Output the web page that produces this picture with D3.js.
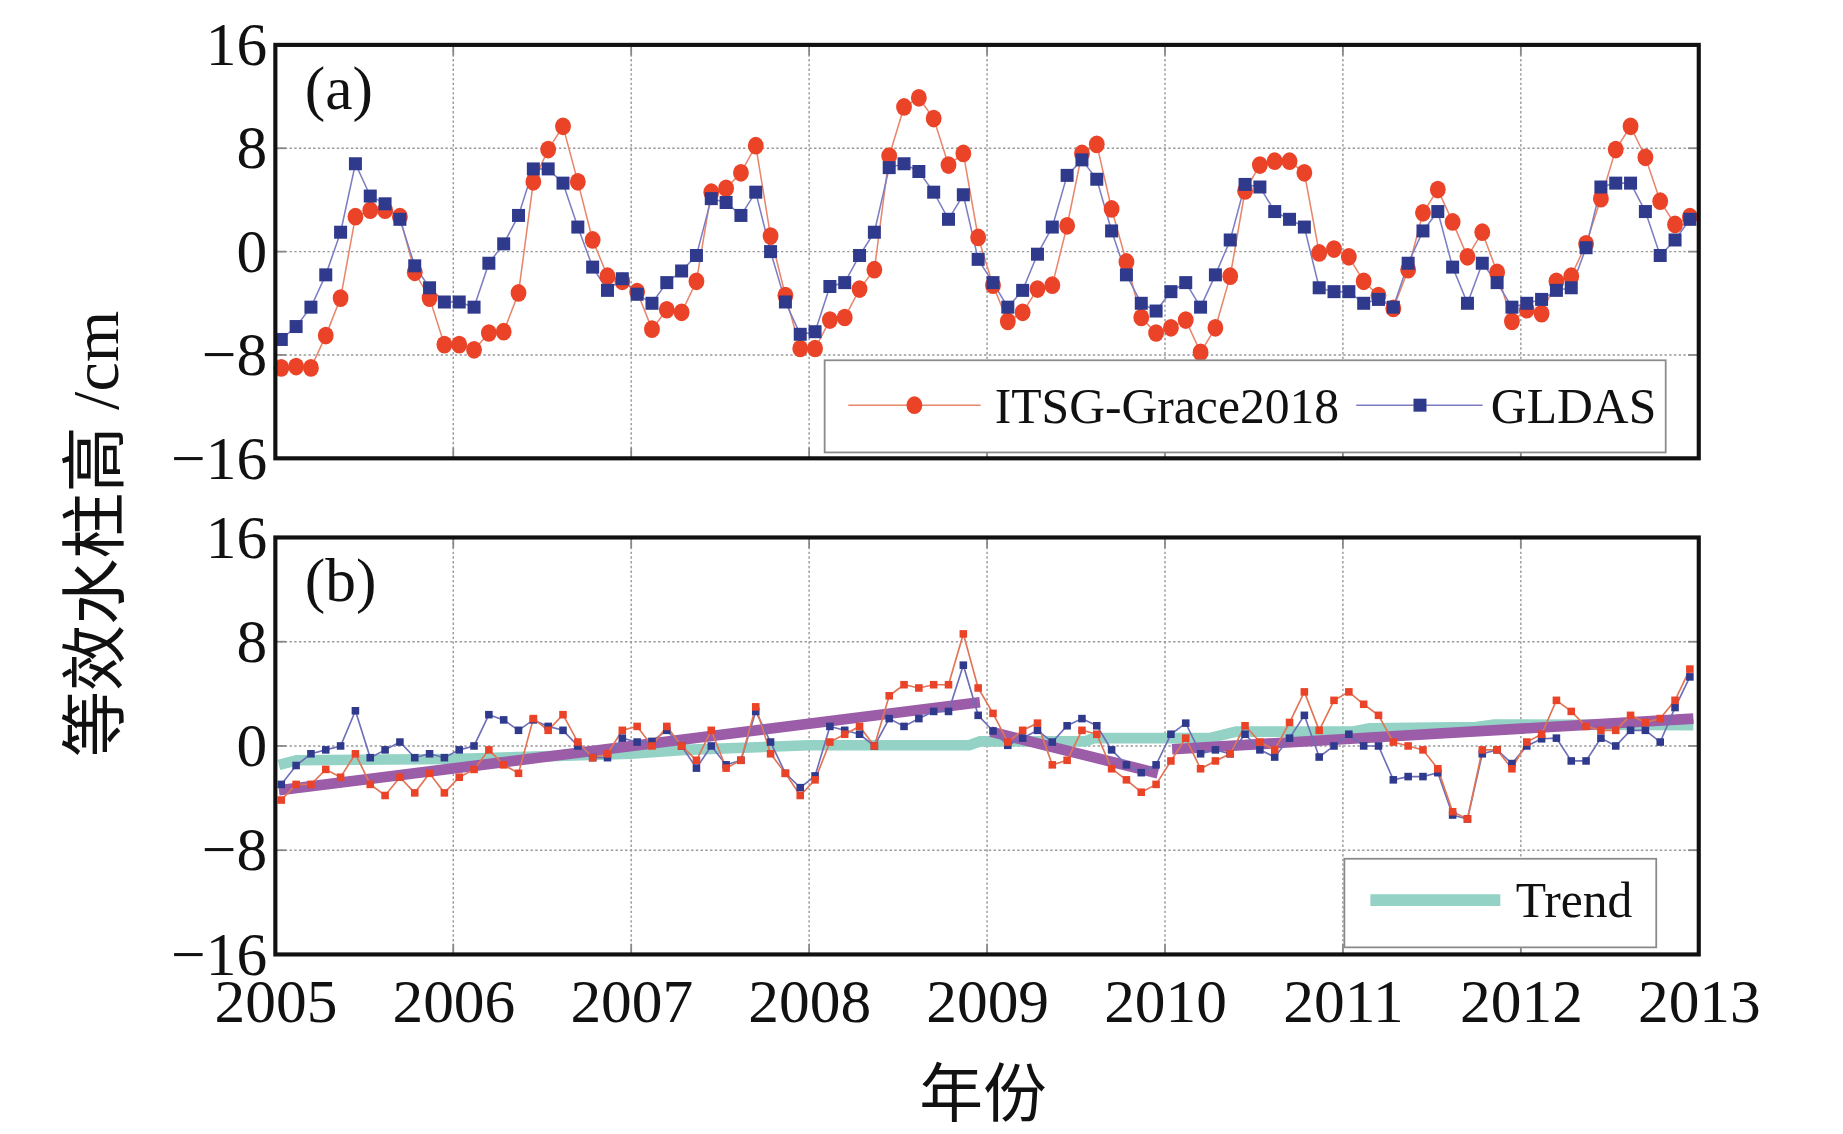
<!DOCTYPE html>
<html>
<head>
<meta charset="utf-8">
<script src="https://cdn.jsdelivr.net/npm/d3@7"></script>
<style>
  body { margin: 0; background: #fff; }
  text { font-family: "Liberation Serif", "Times New Roman", "Noto Sans CJK SC", serif; fill: #111; }
</style>
</head>
<body>
<div id="chart"></div>
<script>
// ---- data ----
var years = [2005, 2006, 2007, 2008, 2009, 2010, 2011, 2012];
var yearTicks = [2005, 2006, 2007, 2008, 2009, 2010, 2011, 2012, 2013];
var yTicks = [-16, -8, 0, 8, 16];

// (a) monthly equivalent water height, cm
var graceA = [
  -9.0, -8.9, -9.0, -6.5, -3.6, 2.7, 3.2, 3.2, 2.7, -1.6, -3.6, -7.2,
  -7.2, -7.6, -6.3, -6.2, -3.2, 5.4, 7.9, 9.7, 5.4, 0.9, -1.9, -2.3,
  -3.1, -6.0, -4.5, -4.7, -2.3, 4.6, 4.9, 6.1, 8.2, 1.2, -3.4, -7.5,
  -7.5, -5.3, -5.1, -2.9, -1.4, 7.4, 11.2, 11.9, 10.3, 6.7, 7.6, 1.1,
  -2.6, -5.4, -4.7, -2.9, -2.6, 2.0, 7.6, 8.3, 3.3, -0.8, -5.1, -6.3,
  -5.9, -5.3, -7.8, -5.9, -1.9, 4.7, 6.7, 7.0, 7.0, 6.1, -0.1, 0.2,
  -0.4, -2.3, -3.4, -4.4, -1.4, 3.0, 4.8, 2.3, -0.4, 1.5, -1.6, -5.4,
  -4.5, -4.8, -2.3, -1.9, 0.6, 4.1, 7.9, 9.7, 7.3, 3.9, 2.1, 2.7
];
var gldasA = [
  -6.8, -5.8, -4.3, -1.8, 1.5, 6.8, 4.3, 3.7, 2.5, -1.1, -2.8, -3.9,
  -3.9, -4.3, -0.9, 0.6, 2.8, 6.4, 6.4, 5.3, 1.9, -1.2, -3.0, -2.1,
  -3.3, -4.0, -2.4, -1.5, -0.3, 4.1, 3.8, 2.8, 4.6, 0.0, -3.9, -6.4,
  -6.2, -2.7, -2.4, -0.3, 1.5, 6.5, 6.8, 6.2, 4.6, 2.5, 4.4, -0.6,
  -2.4, -4.3, -3.0, -0.2, 1.9, 5.9, 7.1, 5.6, 1.6, -1.8, -4.0, -4.6,
  -3.1, -2.4, -4.3, -1.8, 0.9, 5.2, 5.0, 3.1, 2.5, 1.9, -2.8, -3.1,
  -3.1, -4.0, -3.7, -4.3, -0.9, 1.6, 3.1, -1.2, -4.0, -0.9, -2.4, -4.3,
  -4.0, -3.7, -3.0, -2.8, 0.3, 5.0, 5.3, 5.3, 3.1, -0.3, 0.9, 2.5
];

// (b) deseasonalised series
var graceB = [
  -4.15, -2.95, -2.95, -1.8, -2.4, -0.6, -2.95, -3.8, -2.4, -3.6, -2.1, -3.6,
  -2.4, -1.8, -0.3, -1.45, -2.1, 2.1, 1.2, 2.4, 0.3, -0.9, -0.6, 1.2,
  1.5, 0.0, 1.5, 0.0, -1.1, 1.2, -1.7, -1.1, 3.0, -0.6, -2.1, -3.8,
  -2.6, 0.3, 0.9, 1.5, 0.0, 3.85, 4.7, 4.45, 4.7, 4.7, 8.6, 4.45,
  2.5, 0.3, 1.2, 1.75, -1.45, -1.1, 1.2, 0.9, -1.75, -2.6, -3.55, -2.95,
  -1.15, 0.6, -1.75, -1.15, -0.6, 1.55, 0.3, -0.3, 1.8, 4.15, 1.2, 3.5,
  4.15, 3.2, 2.35, 0.3, 0.0, -0.3, -1.75, -5.05, -5.6, -0.3, -0.3, -1.75,
  0.3, 0.9, 3.5, 2.65, 1.5, 1.2, 1.2, 2.35, 1.8, 2.1, 3.5, 5.9
];
var gldasB = [
  -2.95, -1.5, -0.6, -0.3, 0.0, 2.7, -0.9, -0.3, 0.3, -0.9, -0.6, -0.9,
  -0.3, 0.0, 2.4, 2.0, 1.2, 2.0, 1.5, 1.2, 0.0, -0.9, -0.9, 0.6,
  0.3, 0.35, 1.2, 0.0, -1.7, 0.0, -1.45, -1.1, 2.65, 0.3, -2.1, -3.2,
  -2.3, 1.5, 1.2, 0.9, 0.0, 2.1, 1.5, 2.1, 2.65, 2.65, 6.2, 2.35,
  1.15, 0.05, 0.6, 1.2, 0.3, 1.55, 2.1, 1.55, -0.3, -1.45, -2.05, -1.45,
  0.9, 1.75, -0.6, -0.3, -0.6, 0.9, -0.3, -0.85, 0.6, 2.35, -0.85, 0.0,
  0.9, 0.0, 0.0, -2.6, -2.35, -2.35, -2.05, -5.3, -5.6, -0.6, -0.3, -1.35,
  0.0, 0.55, 0.6, -1.15, -1.15, 0.6, 0.0, 1.2, 1.2, 0.3, 2.95, 5.3
];

// trend lines
var trendTealYears = [2005.02, 2005.12, 2006.0, 2007.0, 2007.3, 2008.0, 2008.9, 2008.96, 2009.55, 2009.6, 2010.25, 2010.4, 2011.05, 2011.15, 2011.75, 2011.85, 2012.97];
var trendTealValues = [-1.45, -1.1, -1.0, -0.6, -0.3, 0.05, 0.05, 0.35, 0.35, 0.6, 0.6, 1.1, 1.1, 1.35, 1.45, 1.65, 1.6];
var trendPurpleYears = [[2005.02, 2008.96], [2009.02, 2009.96], [2010.04, 2012.97]];
var trendPurpleValues = [[-3.4, 3.35], [1.1, -2.1], [-0.25, 2.1]];

// month positions (mid-month) for each year
var monthPos = [];
years.forEach(function(y) { d3.range(12).forEach(function(m) { monthPos.push(y + (m + 0.4) / 12); }); });

// ---- layout ----
var W = 1560, H = 960;
var svg = d3.select("#chart").append("svg")
    .attr("width", 1843).attr("height", 1134)
    .attr("viewBox", "0 0 " + W + " " + H);

var left = 233, right = 1438;
var x = d3.scaleLinear().domain([2005, 2013]).range([left, right]);
var yA = d3.scaleLinear().domain([-16, 16]).range([388, 38]);
var yB = d3.scaleLinear().domain([-16, 16]).range([808, 455]);

var red = "#ea4328", redLine = "#e8866c", blue = "#2f3a8c", blueLine = "#7d7dc2";
var teal = "#93d2c5", purple = "#9b5ca8";

function fmt(d) { return d < 0 ? "\u2212" + (-d) : "" + d; }

function panelBase(y, label) {
  var g = svg.append("g");
  // grid
  g.selectAll(".gx").data(yearTicks.slice(1, -1)).enter().append("line")
    .attr("x1", x).attr("x2", x).attr("y1", y(16)).attr("y2", y(-16))
    .attr("stroke", "#999").attr("stroke-width", 1.2).attr("stroke-dasharray", "2,2");
  g.selectAll(".gy").data([-8, 0, 8]).enter().append("line")
    .attr("x1", left).attr("x2", right).attr("y1", y).attr("y2", y)
    .attr("stroke", "#999").attr("stroke-width", 1.2).attr("stroke-dasharray", "2,2");
  // inward ticks
  var tl = 9;
  yearTicks.forEach(function(t) {
    g.append("line").attr("x1", x(t)).attr("x2", x(t)).attr("y1", y(-16)).attr("y2", y(-16) - tl).attr("stroke", "#888").attr("stroke-width", 1.5);
    g.append("line").attr("x1", x(t)).attr("x2", x(t)).attr("y1", y(16)).attr("y2", y(16) + tl).attr("stroke", "#888").attr("stroke-width", 1.5);
  });
  yTicks.forEach(function(t) {
    g.append("line").attr("x1", left).attr("x2", left + tl).attr("y1", y(t)).attr("y2", y(t)).attr("stroke", "#888").attr("stroke-width", 1.5);
    g.append("line").attr("x1", right).attr("x2", right - tl).attr("y1", y(t)).attr("y2", y(t)).attr("stroke", "#888").attr("stroke-width", 1.5);
  });
  // y axis labels
  var ax = svg.append("g").attr("transform", "translate(" + left + ",0)")
    .call(d3.axisLeft(y).tickValues(yTicks).tickFormat(fmt).tickSize(0).tickPadding(7));
  ax.select(".domain").remove();
  ax.selectAll("text").attr("font-size", 52).attr("fill", "#111")
    .style("font-family", "'Liberation Serif', serif");
  svg.append("text").attr("x", 258).attr("y", y(16) + 54).attr("font-size", 52).text(label);
  return g;
}

function frame(y) {
  svg.append("rect").attr("x", left).attr("y", y(16)).attr("width", right - left).attr("height", y(-16) - y(16))
    .attr("fill", "none").attr("stroke", "#111").attr("stroke-width", 3.5);
}

// ---- panel (a) ----
var ga = panelBase(yA, "(a)");
var lineA = d3.line().x(function(d, i) { return x(monthPos[i]); }).y(function(d) { return yA(d); });
ga.append("path").datum(graceA).attr("d", lineA).attr("fill", "none").attr("stroke", redLine).attr("stroke-width", 1.3);
ga.append("path").datum(gldasA).attr("d", lineA).attr("fill", "none").attr("stroke", blueLine).attr("stroke-width", 1.3);
ga.selectAll(".ca").data(graceA).enter().append("ellipse")
  .attr("cx", function(d, i) { return x(monthPos[i]); }).attr("cy", yA)
  .attr("rx", 6.7).attr("ry", 7.5).attr("fill", red);
ga.selectAll(".sa").data(gldasA).enter().append("rect")
  .attr("x", function(d, i) { return x(monthPos[i]) - 5.5; }).attr("y", function(d) { return yA(d) - 5.5; })
  .attr("width", 11).attr("height", 11).attr("fill", blue);

// legend (a)
var la = svg.append("g");
la.append("rect").attr("x", 698).attr("y", 305).attr("width", 712).attr("height", 78)
  .attr("fill", "#fff").attr("stroke", "#8a8a8a").attr("stroke-width", 1.5);
la.append("line").attr("x1", 718).attr("x2", 830).attr("y1", 343).attr("y2", 343).attr("stroke", redLine).attr("stroke-width", 1.3);
la.append("ellipse").attr("cx", 774).attr("cy", 343).attr("rx", 6.7).attr("ry", 7.5).attr("fill", red);
la.append("text").attr("x", 842).attr("y", 343).attr("dy", "0.35em").attr("font-size", 42).text("ITSG-Grace2018");
la.append("line").attr("x1", 1148).attr("x2", 1255).attr("y1", 343).attr("y2", 343).attr("stroke", blueLine).attr("stroke-width", 1.3);
la.append("rect").attr("x", 1196.5).attr("y", 337.5).attr("width", 11).attr("height", 11).attr("fill", blue);
la.append("text").attr("x", 1262).attr("y", 343).attr("dy", "0.35em").attr("font-size", 42).text("GLDAS");
frame(yA);

// ---- panel (b) ----
var gb = panelBase(yB, "(b)");
var lineT = d3.line().x(function(d) { return x(d[0]); }).y(function(d) { return yB(d[1]); });
gb.append("path").datum(d3.zip(trendTealYears, trendTealValues)).attr("d", lineT)
  .attr("fill", "none").attr("stroke", teal).attr("stroke-width", 9);
trendPurpleYears.forEach(function(ys, k) {
  gb.append("path").datum(d3.zip(ys, trendPurpleValues[k])).attr("d", lineT)
    .attr("fill", "none").attr("stroke", purple).attr("stroke-width", 9);
});
var lineB = d3.line().x(function(d, i) { return x(monthPos[i]); }).y(function(d) { return yB(d); });
gb.append("path").datum(gldasB).attr("d", lineB).attr("fill", "none").attr("stroke", "#6e6eb8").attr("stroke-width", 1.4);
gb.append("path").datum(graceB).attr("d", lineB).attr("fill", "none").attr("stroke", "#e27456").attr("stroke-width", 1.4);
gb.selectAll(".sb").data(gldasB).enter().append("rect")
  .attr("x", function(d, i) { return x(monthPos[i]) - 3.2; }).attr("y", function(d) { return yB(d) - 3.2; })
  .attr("width", 6.4).attr("height", 6.4).attr("fill", blue);
gb.selectAll(".rb").data(graceB).enter().append("rect")
  .attr("x", function(d, i) { return x(monthPos[i]) - 3.2; }).attr("y", function(d) { return yB(d) - 3.2; })
  .attr("width", 6.4).attr("height", 6.4).attr("fill", red);

// legend (b)
var lb = svg.append("g");
lb.append("rect").attr("x", 1138).attr("y", 727).attr("width", 264).attr("height", 75)
  .attr("fill", "#fff").attr("stroke", "#8a8a8a").attr("stroke-width", 1.5);
lb.append("line").attr("x1", 1160).attr("x2", 1270).attr("y1", 762).attr("y2", 762).attr("stroke", teal).attr("stroke-width", 10);
lb.append("text").attr("x", 1283).attr("y", 762).attr("dy", "0.35em").attr("font-size", 42).text("Trend");
frame(yB);

// x axis labels
var xa = svg.append("g").attr("transform", "translate(0," + yB(-16) + ")")
  .call(d3.axisBottom(x).tickValues(yearTicks).tickFormat(d3.format("d")).tickSize(0).tickPadding(20));
xa.select(".domain").remove();
xa.selectAll("text").attr("font-size", 52).attr("fill", "#111").style("font-family", "'Liberation Serif', serif");

// axis titles
svg.append("text").attr("transform", "translate(80,452) rotate(-90)")
  .attr("text-anchor", "middle").attr("dy", "0.35em").attr("font-size", 56).text("等效水柱高 /cm");
svg.append("text").attr("x", 832).attr("y", 926).attr("text-anchor", "middle").attr("dy", "0.35em")
  .attr("font-size", 54).text("年份");
</script>
</body>
</html>
